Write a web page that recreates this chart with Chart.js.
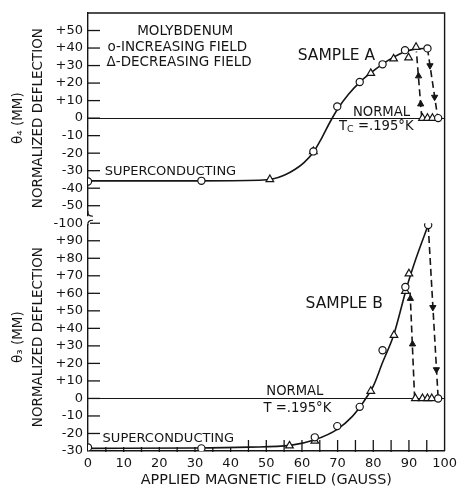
<!DOCTYPE html>
<html>
<head>
<meta charset="utf-8">
<script src="https://cdn.jsdelivr.net/npm/chart.js@4/dist/chart.umd.min.js"></script>
<style>
html,body{margin:0;padding:0;background:#fff;}
#wrap{width:462px;height:487px;}
</style>
</head>
<body>
<div id="wrap"><canvas id="c" width="462" height="487"></canvas></div>
<script>
// ---------- DATA ----------
// Sample A (top panel) : [field (gauss), deflection (mm)]
const aIncreasing = [[0,-36.2],[31.8,-35.8],[63.2,-19],[69.9,6.6],[76.2,20.6],[82.6,30.7],[88.9,38.8],[95.2,39.8],[98.2,0]];
const aDecreasing = [[51,-35],[63.2,-19],[79.3,25.6],[85.7,33.9],[89.9,34.5],[92,40.5],[93.8,0],[95.2,0],[96.6,0]];
const aCurve = [[0,-35.8],[30,-35.8],[48,-35.5],[52,-34.6],[55,-32.6],[58,-29.3],[60.5,-25.5],[63.2,-19.5],[65.5,-11.5],[67.8,-2.5],[70.1,5.5],[73,13.5],[76.1,20.3],[79.3,25.8],[82.5,30.7],[85.7,34.8],[88.5,37.6],[92,39.5],[95.2,39.8]];
const aUpDash = [[93.6,0],[92.1,38]];
const aDownDash = [[95.2,39.8],[98.1,0]];
const aUpArrows = [[93.3,8],[92.7,24]];
const aDownArrows = [[95.9,30],[97.2,12]];

// Sample B (bottom panel)
const bIncreasing = [[0,-28],[31.8,-28.5],[63.6,-22.2],[69.9,-15.8],[76.2,-4.8],[82.6,27.5],[89,63.6],[95.4,99],[98.2,0]];
const bDecreasing = [[56.5,-27],[63.6,-24.3],[79.3,4.2],[85.8,36.1],[89,61.2],[90,71.2],[91.8,0],[93.8,0],[95.2,0],[96.4,0]];
const bCurve = [[0,-28.5],[30,-28.3],[45,-27.8],[56.7,-26.8],[63.6,-23.6],[70,-17.5],[74,-10.5],[76.2,-5],[77.9,0],[80,7],[82.6,20.5],[85.7,36],[89.4,63.5],[92,80],[95.4,99]];
const bUpDash = [[91.6,0],[90.3,62]];
const bDownDash = [[95.4,99],[98.2,0]];
const bUpArrows = [[91.0,31],[90.4,57]];
const bDownArrows = [[96.7,52],[97.7,16.5]];

// Tick labels
const xTickValues = [0,10,20,30,40,50,60,70,80,90,100];
const xTickLabels = ['0','10','20','30','40','50','60','70','80','90','100'];
const topTickValues = [50,40,30,20,10,0,-10,-20,-30,-40,-50];
const topTickLabels = ['+50','+40','+30','+20','+10','0','-10','-20','-30','-40','-50'];
const botTickValues = [100,90,80,70,60,50,40,30,20,10,0,-10,-20,-30];
const botTickLabels = ['-100','+90','+80','+70','+60','+50','+40','+30','+20','+10','0','-10','-20','-30'];

// Text annotations (data coordinates)
const notes = [
  {t:'MOLYBDENUM', x:13.8, y:49.4, ax:'yA', s:13.5},
  {t:'o-INCREASING FIELD', x:5.5, y:40.3, ax:'yA', s:13.5},
  {t:'Δ-DECREASING FIELD', x:5.2, y:31.8, ax:'yA', s:13.5},
  {t:'SAMPLE A', x:58.8, y:35.2, ax:'yA', s:15.5},
  {t:'NORMAL', x:74.3, y:3.4, ax:'yA', s:13.2},
  {t:'SUPERCONDUCTING', x:4.7, y:-30.7, ax:'yA', s:13},
  {t:'SAMPLE B', x:61, y:54, ax:'yB', s:15.5},
  {t:'NORMAL', x:50, y:4, ax:'yB', s:13.2},
  {t:'T =.195°K', x:49.2, y:-5.7, ax:'yB', s:13.2},
  {t:'SUPERCONDUCTING', x:4.1, y:-22.8, ax:'yB', s:13}
];

// ---------- CHART ----------
const INK = '#151515';
const FONT = "'DejaVu Sans', sans-serif";
const pts = arr => arr.map(p => ({x:p[0], y:p[1]}));

function markers(arr, axis, style, r){
  return {data:pts(arr), yAxisID:axis, showLine:false, pointStyle:style, pointRadius:r,
    pointBackgroundColor:'#fff', pointBorderColor:INK, pointBorderWidth:1.2, order:0};
}
function curve(arr, axis){
  return {data:pts(arr), yAxisID:axis, showLine:true, pointRadius:0, borderColor:INK,
    borderWidth:1.6, cubicInterpolationMode:'monotone', fill:false, order:2};
}
function dashed(arr, axis){
  return {data:pts(arr), yAxisID:axis, showLine:true, pointRadius:0, borderColor:INK,
    borderWidth:1.6, borderDash:[7,4], fill:false, order:2};
}
function arrows(arr, axis, rot){
  return {data:pts(arr), yAxisID:axis, showLine:false, pointStyle:'triangle', pointRadius:3.6,
    pointRotation:rot, pointBackgroundColor:INK, pointBorderColor:INK, pointBorderWidth:1, order:1};
}

const decor = {
  id:'decor',
  afterDraw(chart){
    const {ctx, chartArea:ca, scales} = chart;
    ctx.save();
    ctx.strokeStyle = INK;
    ctx.lineWidth = 1.4;
    ctx.beginPath();
    ctx.moveTo(ca.left, ca.top); ctx.lineTo(ca.right, ca.top); ctx.lineTo(ca.right, ca.bottom);
    ctx.stroke();
    ctx.lineWidth = 1.3;
    // inward y ticks
    [['yA', topTickValues], ['yB', botTickValues]].forEach(([id, vals]) => {
      const s = scales[id];
      vals.forEach(v => {
        if ((id === 'yB' && v === -30)) return;
        const y = s.getPixelForValue(v);
        ctx.beginPath(); ctx.moveTo(ca.left, y); ctx.lineTo(ca.left + 12, y); ctx.stroke();
      });
    });
    // inward x ticks (bottom)
    const xs = scales.x;
    for (let v = 5; v < 100; v += 5) {
      const x = xs.getPixelForValue(v);
      const up = v >= 45 ? 11 : 4;
      ctx.beginPath(); ctx.moveTo(x, ca.bottom + 1); ctx.lineTo(x, ca.bottom - up); ctx.stroke();
    }
    // axis break marks between panels
    const yb = scales.yA.bottom;
    ctx.fillStyle = '#fff';
    ctx.fillRect(ca.left - 2, yb - 7, 4, 8);
    ctx.lineWidth = 1.2;
    ctx.beginPath();
    ctx.moveTo(ca.left, yb - 12); ctx.quadraticCurveTo(ca.left - 1, yb - 7, ca.left + 5, yb - 7);
    ctx.moveTo(ca.left, yb + 2); ctx.quadraticCurveTo(ca.left - 1, yb - 3, ca.left + 5, yb - 3);
    ctx.stroke();
    // annotations
    ctx.fillStyle = INK;
    ctx.textBaseline = 'middle';
    ctx.textAlign = 'left';
    notes.forEach(n => {
      ctx.font = n.s + 'px ' + FONT;
      ctx.fillText(n.t, xs.getPixelForValue(n.x), scales[n.ax].getPixelForValue(n.y));
    });
    // Tc = .195°K (with small subscript C)
    let x = xs.getPixelForValue(70.4), y = scales.yA.getPixelForValue(-5.1);
    ctx.font = '13.2px ' + FONT; ctx.fillText('T', x, y);
    x += ctx.measureText('T').width;
    ctx.font = '9.5px ' + FONT; ctx.fillText('C', x, y + 2);
    x += ctx.measureText('C').width;
    ctx.font = '13.2px ' + FONT; ctx.fillText(' =.195°K', x, y);
    ctx.restore();
  }
};

const tickFont = {family:FONT, size:13};
const titleFont = {family:FONT, size:13.5, lineHeight:20/13.5};

new Chart(document.getElementById('c'), {
  type:'scatter',
  data:{datasets:[
    markers(aIncreasing,'yA','circle',3.6),
    markers(aDecreasing,'yA','triangle',4.4),
    markers(bIncreasing,'yB','circle',3.6),
    markers(bDecreasing,'yB','triangle',4.4),
    arrows(aUpArrows,'yA',0), arrows(aDownArrows,'yA',180),
    arrows(bUpArrows,'yB',0), arrows(bDownArrows,'yB',180),
    curve(aCurve,'yA'), curve(bCurve,'yB'),
    dashed(aUpDash,'yA'), dashed(aDownDash,'yA'),
    dashed(bUpDash,'yB'), dashed(bDownDash,'yB')
  ]},
  options:{
    responsive:false, animation:false, devicePixelRatio:1,
    layout:{padding:{top:13, right:12, left:0, bottom:0}},
    plugins:{legend:{display:false}, tooltip:{enabled:false}},
    scales:{
      x:{type:'linear', position:'bottom', min:0, max:100,
        afterFit: s => { s.height = 36; },
        ticks:{stepSize:10, padding:5, color:INK, font:tickFont, maxRotation:0, autoSkip:false,
          callback: v => { const i = xTickValues.indexOf(v); return i >= 0 ? xTickLabels[i] : ''; }},
        grid:{display:false, drawTicks:false},
        border:{display:true, color:INK, width:1.4},
        title:{display:true, text:'APPLIED MAGNETIC FIELD (GAUSS)', color:INK,
          font:{family:FONT, size:14.4, lineHeight:1}, padding:{top:0, bottom:0}}
      },
      yB:{type:'linear', position:'left', stack:'y', stackWeight:130, min:-30, max:100,
        afterFit: s => { s.width = 88; },
        ticks:{stepSize:10, padding:5, color:INK, font:tickFont, autoSkip:false,
          callback: v => { const i = botTickValues.indexOf(v); return i >= 0 ? botTickLabels[i] : ''; }},
        grid:{drawTicks:false, lineWidth:1.1, color: c => (c.tick && c.tick.value === 0) ? INK : 'rgba(0,0,0,0)'},
        border:{display:true, color:INK, width:1.4},
        title:{display:true, text:['θ₃ (MM)', 'NORMALIZED DEFLECTION'], color:INK, font:titleFont, padding:{top:8, bottom:0}}
      },
      yA:{type:'linear', position:'left', stack:'y', stackWeight:120, min:-60, max:60,
        afterFit: s => { s.width = 88; },
        ticks:{stepSize:10, padding:5, color:INK, font:tickFont, autoSkip:false,
          callback: v => { const i = topTickValues.indexOf(v); return i >= 0 ? topTickLabels[i] : ''; }},
        grid:{drawTicks:false, lineWidth:1.1, color: c => (c.tick && c.tick.value === 0) ? INK : 'rgba(0,0,0,0)'},
        border:{display:true, color:INK, width:1.4},
        title:{display:true, text:['θ₄ (MM)', 'NORMALIZED DEFLECTION'], color:INK, font:titleFont, padding:{top:8, bottom:0}}
      }
    }
  },
  plugins:[decor]
});
</script>
</body>
</html>
